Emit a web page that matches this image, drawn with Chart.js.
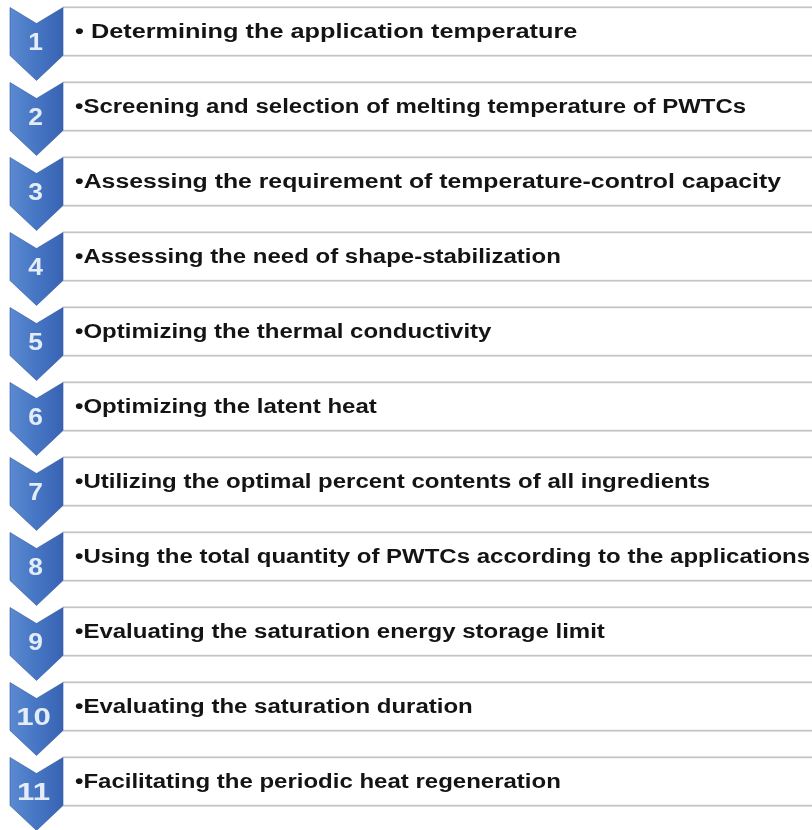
<!DOCTYPE html>
<html>
<head>
<meta charset="utf-8">
<script src="https://cdn.jsdelivr.net/npm/chart.js@4.4.1/dist/chart.umd.min.js"></script>
<style>
  html, body { margin: 0; padding: 0; background: #fff; }
  #wrap { position: relative; width: 812px; height: 830px; overflow: hidden; }
  #box { position: absolute; left: 0; top: -6px; width: 812px; height: 850px; }
</style>
</head>
<body>
<div id="wrap"><div id="box"><canvas id="steps"></canvas></div></div>
<script>
// step numbers shown in the blue chevrons
const stepNumbers = ["1", "2", "3", "4", "5", "6", "7", "8", "9", "10", "11"];

// text of each step
const stepTexts = [
    "\u2022 Determining the application temperature",
    "\u2022Screening and selection of melting temperature of PWTCs",
    "\u2022Assessing the requirement of temperature-control capacity",
    "\u2022Assessing the need of shape-stabilization",
    "\u2022Optimizing the thermal conductivity",
    "\u2022Optimizing the latent heat",
    "\u2022Utilizing the optimal percent contents of all ingredients",
    "\u2022Using the total quantity of PWTCs according to the applications",
    "\u2022Evaluating the saturation energy storage limit",
    "\u2022Evaluating the saturation duration",
    "\u2022Facilitating the periodic heat regeneration"
];

// every step box runs the full width
const boxSpan = [1, 1, 1, 1, 1, 1, 1, 1, 1, 1, 1];

// horizontal stretch of each text line (the source image is not uniform)
const textStretch = [1.265, 1.2, 1.24, 1.2, 1.2, 1.2, 1.2, 1.2, 1.2, 1.2, 1.2];

// draws chevrons, numbers and step text from the scales
const stepsPlugin = {
    id: "stepsPlugin",
    afterDatasetsDraw(chart) {
        const ctx = chart.ctx;
        const x = chart.scales.x;
        const y = chart.scales.y;
        const right = x.getPixelForValue(0);
        const left = right - 53;
        const mid = (left + right) / 2;

        ctx.save();
        stepNumbers.forEach((num, i) => {
            const c = y.getPixelForValue(i);
            const top = c - 25;

            // chevron
            const grad = ctx.createLinearGradient(left, 0, right, 0);
            grad.addColorStop(0, "#5b8ad1");
            grad.addColorStop(0.5, "#4676c3");
            grad.addColorStop(1, "#3863b3");
            ctx.beginPath();
            ctx.moveTo(left, top + 1);
            ctx.lineTo(mid, top + 17);
            ctx.lineTo(right, top + 1);
            ctx.lineTo(right, top + 49);
            ctx.lineTo(mid, top + 74);
            ctx.lineTo(left, top + 49);
            ctx.closePath();
            ctx.fillStyle = grad;
            ctx.fill();
            ctx.strokeStyle = "rgba(50,85,160,0.6)";
            ctx.lineWidth = 1;
            ctx.stroke();

            // number
            ctx.save();
            ctx.translate(mid - (num.length > 1 ? 3 : 1), top + 37);
            ctx.scale(num.length > 1 ? 1.3 : 1.1, 1);
            ctx.fillStyle = "#e4ecf8";
            ctx.font = "bold 24px 'Liberation Sans', Arial, sans-serif";
            ctx.textAlign = "center";
            ctx.textBaseline = "middle";
            ctx.fillText(num, 0, 0);
            ctx.restore();

            // step text
            ctx.save();
            ctx.translate(right + 12, c + 1);
            ctx.scale(textStretch[i], 1);
            ctx.fillStyle = "#141414";
            ctx.font = "bold 20px 'Liberation Sans', Arial, sans-serif";
            ctx.textAlign = "left";
            ctx.textBaseline = "middle";
            ctx.fillText(stepTexts[i], 0, 0);
            ctx.restore();
        });
        ctx.restore();
    }
};

new Chart(document.getElementById("steps").getContext("2d"), {
    type: "bar",
    data: {
        labels: stepTexts,
        datasets: [{
            data: boxSpan.map(v => [0, v]),
            backgroundColor: "#ffffff",
            borderColor: "#c4c4c4",
            borderWidth: { top: 2, bottom: 2, left: 0, right: 0 },
            borderSkipped: false,
            barThickness: 50
        }]
    },
    options: {
        indexAxis: "y",
        responsive: true,
        maintainAspectRatio: false,
        animation: false,
        layout: { padding: { left: 63, right: 0, top: 0, bottom: 25 } },
        plugins: { legend: { display: false }, tooltip: { enabled: false } },
        scales: {
            x: { display: false, min: 0, max: 1 },
            y: { display: false, offset: true }
        }
    },
    plugins: [stepsPlugin]
});
</script>
</body>
</html>
